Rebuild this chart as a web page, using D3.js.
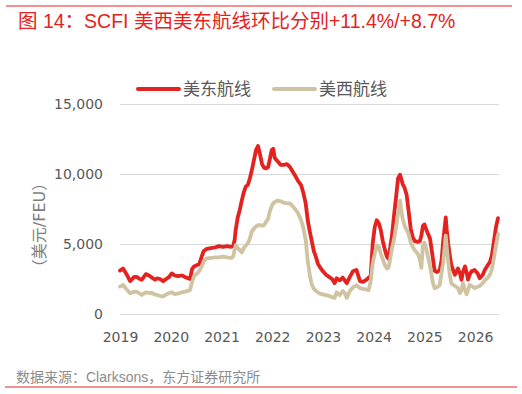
<!DOCTYPE html>
<html>
<head>
<meta charset="utf-8">
<script src="https://cdn.jsdelivr.net/npm/d3@7"></script>
<style>
    body { margin: 0; background: #fff; }
    svg { display: block; }
    .tick text { font-family: "DejaVu Sans", sans-serif; }
</style>
</head>
<body>
<div id="chart"></div>
<script>
// decimal years (roughly weekly in the busy parts)
var years = [
    2019.00, 2019.06, 2019.12, 2019.20, 2019.28, 2019.33, 2019.39, 2019.43, 2019.51, 2019.57,
    2019.63, 2019.69, 2019.73, 2019.79, 2019.85, 2019.91, 2019.97, 2020.02, 2020.08, 2020.14,
    2020.22, 2020.28, 2020.34, 2020.38, 2020.42, 2020.46, 2020.52, 2020.56, 2020.62, 2020.65,
    2020.71, 2020.79, 2020.87, 2020.95, 2021.03, 2021.11, 2021.19, 2021.23, 2021.26, 2021.28,
    2021.32, 2021.36, 2021.40, 2021.44, 2021.48, 2021.52, 2021.56, 2021.60, 2021.64, 2021.68,
    2021.72, 2021.76, 2021.80, 2021.84, 2021.88, 2021.92, 2021.95, 2021.99, 2022.02, 2022.05,
    2022.11, 2022.17, 2022.23, 2022.29, 2022.35, 2022.39, 2022.45, 2022.51, 2022.57, 2022.61,
    2022.66, 2022.70, 2022.74, 2022.78, 2022.82, 2022.86, 2022.90, 2022.94, 2023.00, 2023.06,
    2023.12, 2023.18, 2023.23, 2023.27, 2023.33, 2023.39, 2023.43, 2023.47, 2023.53, 2023.59,
    2023.66, 2023.73, 2023.79, 2023.86, 2023.90, 2023.94, 2023.98, 2024.02, 2024.06, 2024.10,
    2024.14, 2024.18, 2024.22, 2024.26, 2024.29, 2024.32, 2024.36, 2024.40, 2024.44, 2024.48,
    2024.52, 2024.54, 2024.57, 2024.61, 2024.65, 2024.69, 2024.73, 2024.77, 2024.81, 2024.87,
    2024.91, 2024.94, 2024.97, 2025.00, 2025.04, 2025.11, 2025.17, 2025.20, 2025.24, 2025.30,
    2025.34, 2025.37, 2025.42, 2025.44, 2025.47, 2025.50, 2025.53, 2025.60, 2025.66, 2025.70,
    2025.73, 2025.76, 2025.80, 2025.83, 2025.86, 2025.89, 2025.93, 2025.99, 2026.05, 2026.09,
    2026.15, 2026.19, 2026.25, 2026.29, 2026.33, 2026.37, 2026.41, 2026.45
];

// 美东航线 (USD/FEU)
var usEast = [
    3100, 3250, 2900, 2350, 2650, 2650, 2500, 2450, 2850, 2750,
    2600, 2450, 2550, 2500, 2350, 2500, 2650, 2900, 2750, 2700,
    2750, 2650, 2550, 2500, 3200, 3400, 3500, 3550, 4200, 4500,
    4650, 4700, 4750, 4850, 4800, 4850, 4800, 4850, 5300, 6000,
    6900, 7430, 8100, 8700, 9100, 9210, 9700, 10300, 11000, 11700,
    12000, 11400, 10700, 10450, 10400, 10500, 11000, 11700, 11800, 11150,
    10900, 10650, 10650, 10700, 10500, 10250, 9900, 9500, 9200, 8700,
    7900, 6700, 5900, 5200, 4500, 4100, 3600, 3350, 3050, 2800,
    2650, 2500, 2200, 2550, 2400, 2600, 2400, 2200, 2650, 3050,
    3150, 2350, 2300, 2450, 2600, 2700, 5000, 6200, 6700, 6500,
    6000, 5200, 4600, 4100, 3950, 4600, 5600, 7000, 8300, 9700,
    9950, 9700, 9300, 9000, 8500, 7300, 6100, 5500, 5200, 5150,
    5200, 5600, 6300, 6400, 6000, 5400, 3900, 3100, 3000, 3100,
    3900, 5200, 6900, 6000, 5000, 4200, 3500, 2800, 3250, 2900,
    2450, 3000, 3400, 3000, 2450, 2800, 3050, 3150, 2900, 2550,
    2800, 3150, 3500, 3700, 4200, 5200, 6200, 6850
];

// 美西航线 (USD/FEU)
var usWest = [
    1950, 2070, 1800, 1480, 1600, 1590, 1450, 1360, 1550, 1500,
    1500, 1380, 1360, 1300, 1250, 1400, 1500, 1550, 1420, 1450,
    1550, 1600, 1650, 1710, 2300, 2700, 2900, 3050, 3500, 3750,
    3980, 4000, 4050, 4050, 4100, 4050, 4000, 4100, 4600, 4900,
    4700, 4570, 4400, 4700, 4900, 5050, 5400, 5900, 6100, 6250,
    6350, 6350, 6300, 6350, 6600, 6800, 7300, 7700, 7900, 8000,
    8100, 8050, 7950, 7900, 7900, 7750, 7500, 7200, 6700, 6200,
    5300, 3800, 2800, 2100, 1800, 1650, 1550, 1450, 1400, 1350,
    1300, 1200, 1150, 1550, 1350, 1650, 1500, 1150, 1650, 1900,
    2050, 1850, 1800, 1750, 1700, 2300, 3600, 4300, 4900, 4800,
    4300, 3900, 3500, 3250, 3300, 3800, 4700, 5300, 6200, 7200,
    8100, 7500, 6800, 6300, 6000, 5700, 5100, 4800, 4550, 4300,
    3900, 3300, 4900, 5100, 4600, 3400, 2200, 1850, 1900, 2050,
    3000, 3700, 5600, 4800, 3700, 2800, 2200, 2000, 1850, 1500,
    1700, 2200, 1700, 1400, 1700, 2070, 2000, 1850, 1950, 2000,
    2200, 2400, 2600, 2800, 3200, 4000, 4900, 5700
];

var yearTicks = [2019, 2020, 2021, 2022, 2023, 2024, 2025, 2026];
var valueTicks = [0, 5000, 10000, 15000];

var seriesNames = ['美东航线', '美西航线'];
var seriesColors = ['#e42320', '#cfc3a2'];

var width = 522,
    height = 394,
    margin = { top: 104, right: 23, bottom: 80, left: 120 };

var chartWidth = width - margin.left - margin.right,
    chartHeight = height - margin.top - margin.bottom;

var svg = d3.select('#chart').append('svg')
    .attr('width', width)
    .attr('height', height);

// top / bottom rules and title
svg.append('line')
    .attr('x1', 6).attr('x2', 512).attr('y1', 6).attr('y2', 6)
    .attr('stroke', '#e42320').attr('stroke-width', 1);

svg.append('text')
    .attr('x', 18).attr('y', 28)
    .attr('fill', '#e42320')
    .style('font-family', '"Liberation Sans", "Noto Sans CJK SC", sans-serif')
    .style('font-size', '19.5px')
    .text('图 14：SCFI 美西美东航线环比分别+11.4%/+8.7%');

svg.append('line')
    .attr('x1', 5).attr('x2', 517).attr('y1', 387).attr('y2', 387)
    .attr('stroke', '#e42320').attr('stroke-width', 1);

svg.append('text')
    .attr('x', 16).attr('y', 382)
    .attr('fill', '#8c8c8c')
    .style('font-family', '"Liberation Sans", "Noto Sans CJK SC", sans-serif')
    .style('font-size', '14px')
    .text('数据来源：Clarksons，东方证券研究所');

var xScale = d3.scaleLinear().domain([2019, 2026.47]).range([0, chartWidth]);
var yScale = d3.scaleLinear().domain([0, 15000]).range([chartHeight, 0]);

var chartG = svg.append('g')
    .attr('transform', 'translate(' + margin.left + ',' + margin.top + ')');

// gridlines
chartG.append('g')
    .call(d3.axisLeft(yScale).tickValues(valueTicks).tickSize(-chartWidth).tickFormat(''))
    .call(function (g) { g.select('.domain').remove(); })
    .selectAll('line')
    .attr('stroke', '#d9d9d9')
    .attr('stroke-width', 1.2);

var yAxis = chartG.append('g')
    .call(d3.axisLeft(yScale).tickValues(valueTicks).tickSize(0).tickPadding(17)
        .tickFormat(d3.format(',')));
yAxis.select('.domain').remove();
yAxis.selectAll('text').attr('fill', '#595959').style('font-size', '14px');

var xAxis = chartG.append('g')
    .attr('transform', 'translate(0,' + chartHeight + ')')
    .call(d3.axisBottom(xScale).tickValues(yearTicks).tickSize(0).tickPadding(18)
        .tickFormat(d3.format('d')));
xAxis.select('.domain').remove();
xAxis.selectAll('text').attr('fill', '#595959').style('font-size', '14px');

svg.append('text')
    .attr('transform', 'translate(45,225) rotate(-90)')
    .attr('text-anchor', 'middle')
    .attr('fill', '#7f7f7f')
    .style('font-family', '"DejaVu Sans", "Noto Sans CJK SC", sans-serif')
    .style('font-size', '16px')
    .text('（美元/FEU）');

var line = d3.line()
    .x(function (d) { return xScale(d[0]); })
    .y(function (d) { return yScale(d[1]); });

[usEast, usWest].forEach(function (values, i) {
    chartG.append('path')
        .datum(d3.zip(years, values))
        .attr('fill', 'none')
        .attr('stroke', seriesColors[i])
        .attr('stroke-width', 3.8)
        .attr('stroke-linejoin', 'round')
        .attr('stroke-linecap', 'round')
        .attr('d', line);
});

// legend
var legend = svg.append('g').attr('class', 'legend');
var legendX = [138, 274];
seriesNames.forEach(function (name, i) {
    legend.append('line')
        .attr('x1', legendX[i]).attr('x2', legendX[i] + 41)
        .attr('y1', 89).attr('y2', 89)
        .attr('stroke', seriesColors[i])
        .attr('stroke-width', 4)
        .attr('stroke-linecap', 'round');
    legend.append('text')
        .attr('x', legendX[i] + 45).attr('y', 95)
        .attr('fill', '#595959')
        .style('font-family', '"Noto Sans CJK SC", sans-serif')
        .style('font-size', '17px')
        .text(name);
});
</script>
</body>
</html>
